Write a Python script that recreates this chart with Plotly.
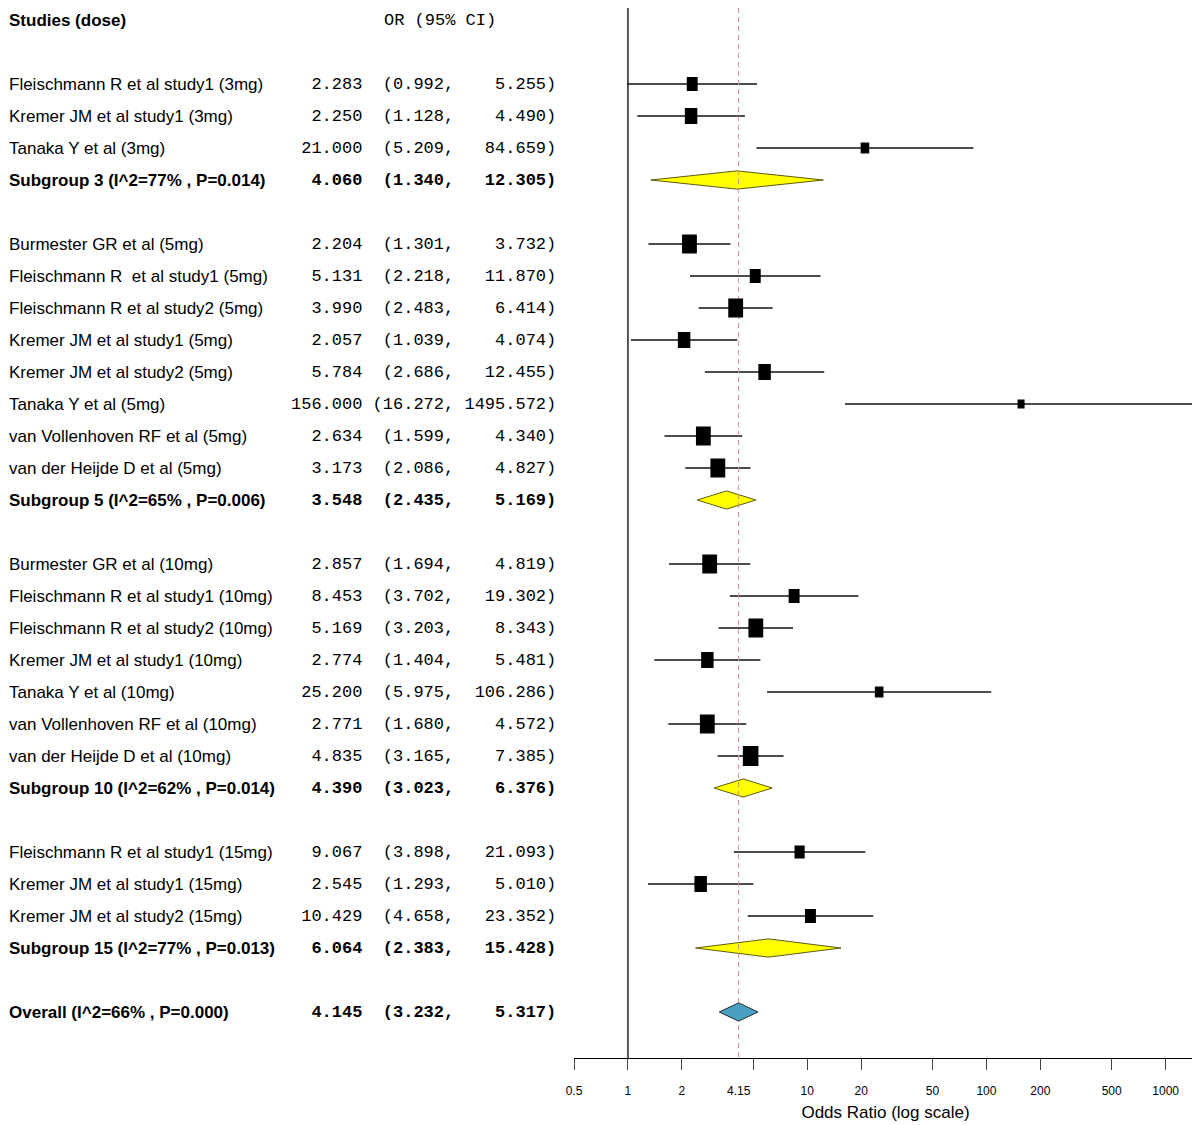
import math
import plotly.graph_objects as go

# ---------------- data ----------------
studies_3 = ["Fleischmann R et al study1 (3mg)", "Kremer JM et al study1 (3mg)", "Tanaka Y et al (3mg)"]
or_3 = [2.283, 2.250, 21.000]
lo_3 = [0.992, 1.128, 5.209]
hi_3 = [5.255, 4.490, 84.659]
w_3 = [14, 16, 11]

studies_5 = ["Burmester GR et al (5mg)", "Fleischmann R  et al study1 (5mg)", "Fleischmann R et al study2 (5mg)",
             "Kremer JM et al study1 (5mg)", "Kremer JM et al study2 (5mg)", "Tanaka Y et al (5mg)",
             "van Vollenhoven RF et al (5mg)", "van der Heijde D et al (5mg)"]
or_5 = [2.204, 5.131, 3.990, 2.057, 5.784, 156.000, 2.634, 3.173]
lo_5 = [1.301, 2.218, 2.483, 1.039, 2.686, 16.272, 1.599, 2.086]
hi_5 = [3.732, 11.870, 6.414, 4.074, 12.455, 1495.572, 4.340, 4.827]
w_5 = [19, 14, 19, 16, 16, 9, 19, 19]

studies_10 = ["Burmester GR et al (10mg)", "Fleischmann R et al study1 (10mg)", "Fleischmann R et al study2 (10mg)",
              "Kremer JM et al study1 (10mg)", "Tanaka Y et al (10mg)", "van Vollenhoven RF et al (10mg)",
              "van der Heijde D et al (10mg)"]
or_10 = [2.857, 8.453, 5.169, 2.774, 25.200, 2.771, 4.835]
lo_10 = [1.694, 3.702, 3.203, 1.404, 5.975, 1.680, 3.165]
hi_10 = [4.819, 19.302, 8.343, 5.481, 106.286, 4.572, 7.385]
w_10 = [19, 14, 19, 16, 11, 19, 20]

studies_15 = ["Fleischmann R et al study1 (15mg)", "Kremer JM et al study1 (15mg)", "Kremer JM et al study2 (15mg)"]
or_15 = [9.067, 2.545, 10.429]
lo_15 = [3.898, 1.293, 4.658]
hi_15 = [21.093, 5.010, 23.352]
w_15 = [13, 16, 14]

sub_labels = ["Subgroup 3 (I^2=77% , P=0.014)", "Subgroup 5 (I^2=65% , P=0.006)",
              "Subgroup 10 (I^2=62% , P=0.014)", "Subgroup 15 (I^2=77% , P=0.013)"]
sub_or = [4.060, 3.548, 4.390, 6.064]
sub_lo = [1.340, 2.435, 3.023, 2.383]
sub_hi = [12.305, 5.169, 6.376, 15.428]

overall_label = "Overall (I^2=66% , P=0.000)"
overall_or = 4.145
overall_lo = 3.232
overall_hi = 5.317

tick_vals = [0.5, 1, 2, 5, 10, 20, 50, 100, 200, 500, 1000, 1495.572]
tick_text = ["0.5", "1", "2", "", "10", "20", "50", "100", "200", "500", "1000", ""]
ref_label = "4.15"

groups = [
    (studies_3, or_3, lo_3, hi_3, w_3),
    (studies_5, or_5, lo_5, hi_5, w_5),
    (studies_10, or_10, lo_10, hi_10, w_10),
    (studies_15, or_15, lo_15, hi_15, w_15),
]

# ---------------- layout constants (page pixels; body margin = 8px) ----------------
OFF = 8
W, H = 1200 - OFF, 1125 - OFF
AXIS_Y = 1058            # page y of x-axis line
ROW0_Y = 20              # page y of header row
ROW_H = 32               # px per row
NAME_FONT = "Liberation Sans, Arial, sans-serif"
MONO_FONT = "Liberation Mono, Courier New, monospace"
NAME_SIZE = 17
MONO_SIZE = 17
DIAMOND_HALF = 0.285
BOX_ASPECT = 0.78

Y_TOP = (OFF - ROW0_Y) / ROW_H
Y_BOT = (AXIS_Y - ROW0_Y) / ROW_H


def px(xpage):
    return (xpage - OFF) / W


def fmt(o, l, h):
    return f"{o:7.3f} {'(' + format(l, '.3f') + ',':>8} {format(h, '.3f') + ')':>9}"


def name_ann(text, row, bold=False):
    return dict(x=0, y=row, xref="paper", yref="y", text=("<b>%s</b>" % text) if bold else text,
                showarrow=False, xanchor="left", yanchor="middle", borderpad=0,
                font=dict(family=NAME_FONT, size=NAME_SIZE, color="black"))


def num_ann(o, l, h, row, bold=False):
    t = fmt(o, l, h).replace(" ", "&nbsp;")
    return dict(x=px(557), y=row, xref="paper", yref="y", text=("<b>%s</b>" % t) if bold else t,
                showarrow=False, xanchor="right", yanchor="middle", borderpad=0,
                font=dict(family=MONO_FONT, size=MONO_SIZE, color="black"))


fig = go.Figure()
ann = [name_ann("Studies (dose)", 0, bold=True),
       dict(x=px(383), y=0, xref="paper", yref="y", text="OR (95% CI)", showarrow=False,
            xanchor="left", yanchor="middle", borderpad=0,
            font=dict(family=MONO_FONT, size=MONO_SIZE, color="black"))]

ci_traces = []
box_traces = []
diamond_traces = []

row = 2
for gi, (names, ors, los, his, ws) in enumerate(groups):
    for n, o, l, h, w in zip(names, ors, los, his, ws):
        ann.append(name_ann(n, row))
        ann.append(num_ann(o, l, h, row))
        ci_traces.append(go.Scatter(x=[l, h], y=[row, row], mode="lines",
                                    line=dict(color="#111111", width=1.3), hoverinfo="skip", showlegend=False))
        half = (w / 2) / ROW_H
        box_traces.append(go.Scatter(x=[o, o], y=[row - half, row + half], mode="lines",
                                     line=dict(color="black", width=w * BOX_ASPECT),
                                     hoverinfo="skip", showlegend=False))
        row += 1
    ann.append(name_ann(sub_labels[gi], row, bold=True))
    ann.append(num_ann(sub_or[gi], sub_lo[gi], sub_hi[gi], row, bold=True))
    diamond_traces.append(go.Scatter(
        x=[sub_lo[gi], sub_or[gi], sub_hi[gi], sub_or[gi], sub_lo[gi]],
        y=[row, row - DIAMOND_HALF, row, row + DIAMOND_HALF, row],
        mode="lines", fill="toself", fillcolor="#ffff00", line=dict(color="#5c5c10", width=1),
        hoverinfo="skip", showlegend=False))
    row += 2

ann.append(name_ann(overall_label, row, bold=True))
ann.append(num_ann(overall_or, overall_lo, overall_hi, row, bold=True))
overall_trace = go.Scatter(
    x=[overall_lo, overall_or, overall_hi, overall_or, overall_lo],
    y=[row, row - DIAMOND_HALF, row, row + DIAMOND_HALF, row],
    mode="lines", fill="toself", fillcolor="#4aa0c2", line=dict(color="#1c2c34", width=1),
    hoverinfo="skip", showlegend=False)

# drawing order: CI lines, subgroup diamonds, reference lines, overall diamond, boxes
for t in ci_traces:
    fig.add_trace(t)
for t in diamond_traces:
    fig.add_trace(t)
fig.add_trace(go.Scatter(x=[1, 1], y=[Y_TOP, Y_BOT], mode="lines",
                         line=dict(color="black", width=1.3), hoverinfo="skip", showlegend=False))
fig.add_trace(go.Scatter(x=[overall_or, overall_or], y=[Y_TOP, Y_BOT], mode="lines",
                         line=dict(color="#d98a8a", width=1, dash="5px,4px"), hoverinfo="skip", showlegend=False))
fig.add_trace(overall_trace)
for t in box_traces:
    fig.add_trace(t)

ann.append(dict(x=math.log10(overall_or), y=0, xref="x", yref="paper", text=ref_label, showarrow=False,
                xanchor="center", yanchor="top", yshift=-24,
                font=dict(family="Liberation Sans, Arial, sans-serif", size=12, color="black")))

x_lo = min(tick_vals)
x_hi = max(tick_vals)
fig.update_layout(
    width=W, height=H,
    margin=dict(l=0, r=0, t=0, b=H - (AXIS_Y - OFF), autoexpand=False),
    plot_bgcolor="white", paper_bgcolor="white",
    showlegend=False,
    annotations=ann,
    xaxis=dict(type="log", domain=[px(574), px(1197)], range=[math.log10(x_lo), math.log10(x_hi)],
               automargin=False,
               tickmode="array", tickvals=tick_vals, ticktext=tick_text,
               ticks="outside", ticklen=11, tickcolor="#444444", tickwidth=1.3, ticklabelstandoff=10,
               showline=True, linecolor="black", linewidth=1.3, showgrid=False, zeroline=False,
               tickfont=dict(family="Liberation Sans, Arial, sans-serif", size=12, color="black"),
               title=dict(text="Odds Ratio (log scale)", standoff=9,
                          font=dict(family="Liberation Sans, Arial, sans-serif", size=17, color="black"))),
    yaxis=dict(range=[Y_BOT, Y_TOP], domain=[0, 1], showgrid=False, zeroline=False, automargin=False,
               showticklabels=False, ticks="", showline=False),
)

fig.write_html("out.html")
